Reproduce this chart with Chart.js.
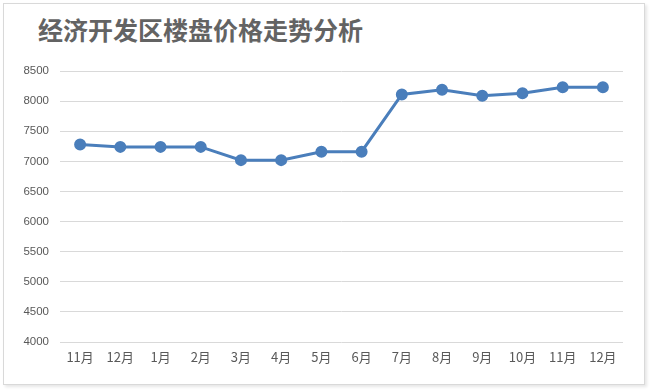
<!DOCTYPE html>
<html>
<head>
<meta charset="utf-8">
<script src="https://cdn.jsdelivr.net/npm/chart.js@4/dist/chart.umd.min.js"></script>
<style>
  html, body { margin: 0; padding: 0; background: #fff; }
  #wrap { position: relative; width: 650px; height: 392px; }
  #frame { position: absolute; left: 3px; top: 3px; width: 640px; height: 380px;
           border: 1px solid #d9d9d9; box-shadow: 2px 2px 3px #e6e6e6; }
  #title { position: absolute; left: 38px; top: 13px; font: bold 25px "Noto Sans CJK SC", sans-serif;
           color: #636363; line-height: 32px; white-space: nowrap; }
  canvas { position: absolute; left: 0; top: 0; }
</style>
</head>
<body>
<div id="wrap">
  <div id="frame"></div>
  <div id="title">经济开发区楼盘价格走势分析</div>
  <canvas id="c" width="650" height="392"></canvas>
</div>
<script>
// months and price per square metre
var months = ['11月', '12月', '1月', '2月', '3月', '4月', '5月', '6月', '7月', '8月', '9月', '10月', '11月', '12月'];
var prices = [7280, 7240, 7240, 7240, 7020, 7020, 7160, 7160, 8110, 8190, 8090, 8130, 8230, 8230];
var yMin = 4000;
var yMax = 8500;
var yStep = 500;

var lineColor = '#4a7ebb';
var textColor = '#595959';

new Chart(document.getElementById('c'), {
  type: 'line',
  data: {
    labels: months,
    datasets: [{
      data: prices,
      borderColor: lineColor,
      backgroundColor: lineColor,
      borderWidth: 3,
      pointRadius: 4.5,
      pointHoverRadius: 4.5,
      tension: 0
    }]
  },
  options: {
    responsive: false,
    animation: false,
    layout: { padding: { left: 4, right: 27, top: 71, bottom: 20 } },
    plugins: { legend: { display: false }, tooltip: { enabled: false } },
    scales: {
      x: {
        offset: true,
        grid: { display: false, drawTicks: false },
        border: { display: false },
        ticks: { color: textColor, font: { family: 'Noto Sans CJK SC', size: 13 }, padding: 7, maxRotation: 0 },
        afterFit: function (s) { s.height = 30; }
      },
      y: {
        min: yMin,
        max: yMax,
        ticks: {
          stepSize: yStep, color: textColor, padding: 11,
          font: { family: 'Liberation Sans', size: 11.5 },
          callback: function (v) { return String(v); }
        },
        grid: { color: '#d9d9d9', lineWidth: 1, drawTicks: false },
        border: { display: false },
        afterFit: function (s) { s.width = 56; }
      }
    }
  }
});
</script>
</body>
</html>
